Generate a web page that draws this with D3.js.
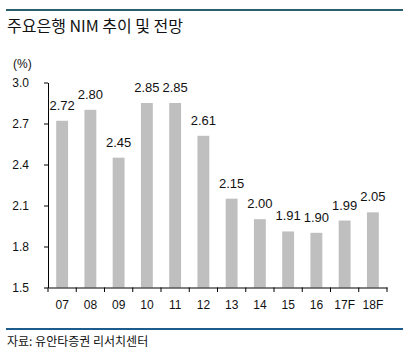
<!DOCTYPE html>
<html><head><meta charset="utf-8">
<script src="https://cdn.jsdelivr.net/npm/d3@7"></script>
<style>
html,body{margin:0;padding:0;background:#fff;}
svg{display:block;}
</style></head>
<body>
<svg id="chart" width="408" height="357"></svg>
<script>
const categories = ["07","08","09","10","11","12","13","14","15","16","17F","18F"];
const nimValues = [2.72,2.80,2.45,2.85,2.85,2.61,2.15,2.00,1.91,1.90,1.99,2.05];
const yTicks = [1.5,1.8,2.1,2.4,2.7,3.0];
const valueLabels = ["2.72","2.80","2.45","2.85","2.85","2.61","2.15","2.00","1.91","1.90","1.99","2.05"];
const titleText = "주요은행 NIM 추이 및 전망";
const unitText = "(%)";
const sourceText = "자료: 유안타증권 리서치센터";

const svg = d3.select("#chart");
const latin = "'Liberation Sans', Arial, sans-serif";
const kr = "'Noto Sans CJK KR', sans-serif";

// top rule
svg.append("rect").attr("x",6).attr("y",9).attr("width",397).attr("height",2).attr("fill","#2c5d6d");
// title
svg.append("text").attr("x",7).attr("y",32).attr("font-family",kr).attr("font-size",16).attr("fill","#111").text(titleText);
// unit
svg.append("text").attr("x",13).attr("y",68).attr("font-family",latin).attr("font-size",12).attr("fill","#111").text(unitText);

const x = d3.scaleBand().domain(categories).range([48,387]).paddingInner(0.58).paddingOuter(0.29);
const xb = d3.scaleBand().domain(categories).range([48,387]);
const y = d3.scaleLinear().domain([1.5,3.0]).range([287.5,82.5]);

// bars
svg.append("g").selectAll("rect").data(categories).join("rect")
  .attr("x",d=>x(d)).attr("width",x.bandwidth())
  .attr("y",(d,i)=>y(nimValues[i])).attr("height",(d,i)=>y(1.5)-y(nimValues[i]))
  .attr("fill","#bfbfbf");

// value labels
svg.append("g").selectAll("text").data(categories).join("text")
  .attr("x",d=>x(d)+x.bandwidth()/2).attr("y",(d,i)=>y(nimValues[i])-11)
  .attr("text-anchor","middle").attr("font-family",latin).attr("font-size",13).attr("fill","#111")
  .text((d,i)=>valueLabels[i]);

// y axis
const yAxis = svg.append("g").attr("transform","translate(48,0)")
  .call(d3.axisLeft(y).tickValues(yTicks).tickFormat(d3.format(".1f")).tickSizeInner(4).tickSizeOuter(0).tickPadding(15));
yAxis.select(".domain").attr("stroke","#000");
yAxis.selectAll(".tick line").attr("stroke","#000");
yAxis.selectAll("text").attr("font-family",latin).attr("font-size",12).attr("fill","#111");

// x axis
const xAxis = svg.append("g").attr("transform","translate(0,287.5)")
  .call(d3.axisBottom(x).tickSize(0).tickPadding(13));
xAxis.select(".domain").attr("stroke","#000");
xAxis.selectAll("text").attr("font-family",latin).attr("font-size",12).attr("fill","#111");
// x ticks at band boundaries
const bounds = categories.map(c=>xb(c)).concat([xb(categories[categories.length-1])+xb.bandwidth()]);
svg.append("g").selectAll("line").data(bounds).join("line")
  .attr("x1",d=>d).attr("x2",d=>d).attr("y1",287.5).attr("y2",292)
  .attr("stroke","#000");

// bottom rule
svg.append("rect").attr("x",6).attr("y",328).attr("width",397).attr("height",2).attr("fill","#1d5b8c");
// source
svg.append("text").attr("x",7).attr("y",346).attr("font-family",kr).attr("font-size",12).attr("fill","#111").text(sourceText);
</script>
</body></html>
